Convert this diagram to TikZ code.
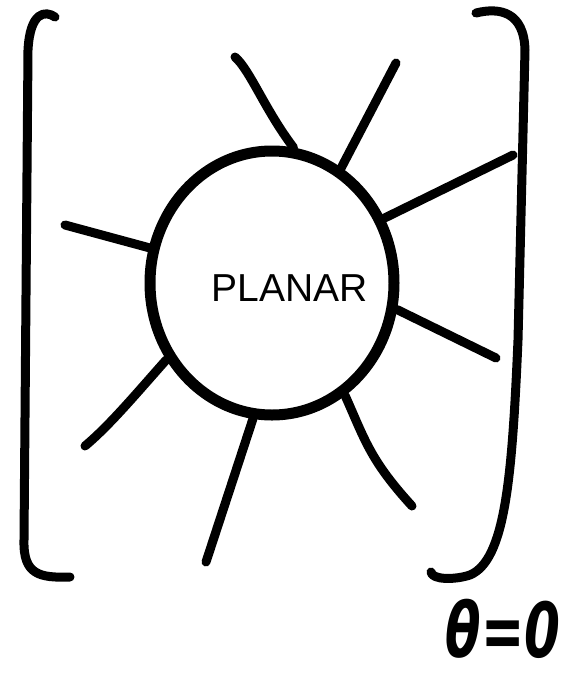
\documentclass[tikz,border=0pt]{standalone}
\usepackage{fontspec}
\setmainfont{Liberation Sans}
\newfontfamily\thetafont{DejaVu Sans}
\usetikzlibrary{shapes.geometric}
\tikzset{
  body/.style={ellipse, draw, line width=11pt, minimum width=244pt, minimum height=264pt, inner sep=0pt},
  leg/.style={line width=9pt, line cap=round},
  bracket/.style={line width=9pt, line cap=round, line join=round},
}
\begin{document}
\begin{tikzpicture}[x=1pt,y=-1pt]
\useasboundingbox (0,0) rectangle (573,678);
\node[body] (b) at (272,283) {};
\node[font=\fontsize{39}{39}\selectfont] (t) at (290,288) {PLANAR};
% leg ends
\coordinate (e1) at (235,57);
\coordinate (e2) at (396,63);
\coordinate (e3) at (513,155);
\coordinate (e4) at (496,358);
\coordinate (e5) at (412,506);
\coordinate (e6) at (206,562);
\coordinate (e7) at (85,446);
\coordinate (e8) at (65,225);
\draw[leg] (b.81) .. controls (265,110) and (250,70) .. (e1);
\draw[leg] (b.59) -- (e2);
\draw[leg] (b.30) -- (e3);
\draw[leg] (b.-12) -- (e4);
\draw[leg] (b.-57) .. controls (365,440) and (370,460) .. (e5);
\draw[leg] (b.-98) -- (e6);
\draw[leg] (b.-144) .. controls (135,395) and (110,425) .. (e7);
\draw[leg] (b.164) -- (e8);
% brackets
\draw[bracket] (55,17) .. controls (45,10) and (30,12) .. (28,50) -- (24,540) .. controls (23,575) and (40,578) .. (70,577);
\draw[bracket] (476,13) .. controls (500,7) and (524,12) .. (525,50) -- (518,340) .. controls (512,480) and (505,560) .. (470,575) .. controls (455,580) and (432,580) .. (431,572);
\node[font=\thetafont\bfseries\itshape\fontsize{76}{76}\selectfont, xscale=0.68, inner sep=0pt] (th) at (503,629) {θ=0};
\end{tikzpicture}
\end{document}
